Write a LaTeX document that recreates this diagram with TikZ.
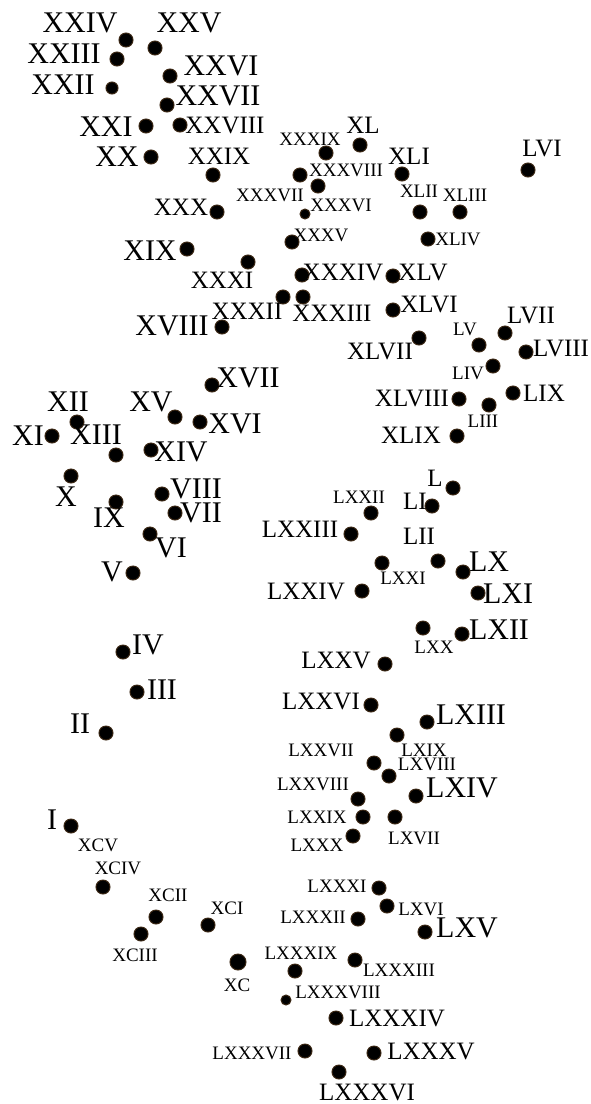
\documentclass[tikz,border=0pt]{standalone}
\usepackage{fontspec}
\setmainfont{Liberation Serif}
\begin{document}
\begin{tikzpicture}[x=1pt,y=-1pt,
  dot/.style={circle,fill=black,draw=black!70!brown,line width=1pt,inner sep=0pt,minimum size=14pt},
  sdot/.style={dot,minimum size=10pt},
  big/.style={inner sep=0pt,font=\fontsize{30}{30}\selectfont},
  med/.style={inner sep=0pt,font=\fontsize{25}{25}\selectfont},
  sml/.style={inner sep=0pt,font=\fontsize{19}{19}\selectfont}]
\useasboundingbox[fill=white] (0,0) rectangle (591,1104);
% dots
\node[dot] (d1) at (71,826) {};
\node[dot] (d2) at (106,733) {};
\node[dot] (d3) at (137,692) {};
\node[dot] (d4) at (123,652) {};
\node[dot] (d5) at (133,573) {};
\node[dot] (d6) at (150,534) {};
\node[dot] (d7) at (175,513) {};
\node[dot] (d8) at (162,494) {};
\node[dot] (d9) at (116,502) {};
\node[dot] (d10) at (71,476) {};
\node[dot] (d11) at (52,436) {};
\node[dot] (d12) at (77,422) {};
\node[dot] (d13) at (116,455) {};
\node[dot] (d14) at (151,450) {};
\node[dot] (d15) at (175,417) {};
\node[dot] (d16) at (200,422) {};
\node[dot] (d17) at (212,385) {};
\node[dot] (d18) at (222,327) {};
\node[dot] (d19) at (187,249) {};
\node[dot] (d20) at (151,157) {};
\node[dot] (d21) at (146,126) {};
\node[dot,minimum size=12pt] (d22) at (112,88) {};
\node[dot] (d23) at (117,59) {};
\node[dot] (d24) at (126,40) {};
\node[dot] (d25) at (155,48) {};
\node[dot] (d26) at (170,76) {};
\node[dot] (d27) at (167,105) {};
\node[dot] (d28) at (180,125) {};
\node[dot] (d29) at (213,175) {};
\node[dot] (d30) at (217,212) {};
\node[dot] (d31) at (248,262) {};
\node[dot] (d32) at (283,297) {};
\node[dot] (d33) at (303,297) {};
\node[dot] (d34) at (302,275) {};
\node[dot] (d35) at (292,242) {};
\node[sdot] (d36) at (305,214) {};
\node[dot] (d37) at (318,186) {};
\node[dot] (d38) at (300,175) {};
\node[dot] (d39) at (326,153) {};
\node[dot] (d40) at (360,145) {};
\node[dot] (d41) at (402,174) {};
\node[dot] (d42) at (420,212) {};
\node[dot] (d43) at (460,212) {};
\node[dot] (d44) at (428,239) {};
\node[dot] (d45) at (393,276) {};
\node[dot] (d46) at (393,310) {};
\node[dot] (d47) at (419,338) {};
\node[dot] (d48) at (459,399) {};
\node[dot] (d49) at (457,436) {};
\node[dot] (d50) at (453,488) {};
\node[dot] (d51) at (432,506) {};
\node[dot] (d52) at (438,561) {};
\node[dot] (d53) at (489,405) {};
\node[dot] (d54) at (493,366) {};
\node[dot] (d55) at (479,345) {};
\node[dot] (d56) at (528,170) {};
\node[dot] (d57) at (505,333) {};
\node[dot] (d58) at (526,352) {};
\node[dot] (d59) at (513,393) {};
\node[dot] (d60) at (463,572) {};
\node[dot] (d61) at (478,593) {};
\node[dot] (d62) at (462,634) {};
\node[dot] (d63) at (427,722) {};
\node[dot] (d64) at (416,796) {};
\node[dot] (d65) at (425,932) {};
\node[dot] (d66) at (387,906) {};
\node[dot] (d67) at (395,817) {};
\node[dot] (d68) at (389,776) {};
\node[dot] (d69) at (397,735) {};
\node[dot] (d70) at (423,628) {};
\node[dot] (d71) at (382,563) {};
\node[dot] (d72) at (371,513) {};
\node[dot] (d73) at (351,534) {};
\node[dot] (d74) at (362,591) {};
\node[dot] (d75) at (385,664) {};
\node[dot] (d76) at (371,705) {};
\node[dot] (d77) at (374,763) {};
\node[dot] (d78) at (358,799) {};
\node[dot] (d79) at (363,817) {};
\node[dot] (d80) at (353,836) {};
\node[dot] (d81) at (379,888) {};
\node[dot] (d82) at (358,919) {};
\node[dot] (d83) at (355,960) {};
\node[dot] (d84) at (336,1018) {};
\node[dot] (d85) at (374,1053) {};
\node[dot] (d86) at (339,1072) {};
\node[dot] (d87) at (305,1051) {};
\node[sdot] (d88) at (286,1000) {};
\node[dot] (d89) at (295,971) {};
\node[dot,minimum size=16pt] (d90) at (238,962) {};
\node[dot] (d91) at (208,925) {};
\node[dot] (d92) at (156,917) {};
\node[dot] (d93) at (141,934) {};
\node[dot] (d94) at (103,887) {};
% labels
\node[big] (t1) at (52,820) {I};
\node[big] (t2) at (80,724) {II};
\node[big] (t3) at (162,690) {III};
\node[big] (t4) at (148,645) {IV};
\node[big] (t5) at (112,572) {V};
\node[big] (t6) at (171,548) {VI};
\node[big] (t7) at (201,513) {VII};
\node[big] (t8) at (196,489) {VIII};
\node[big] (t9) at (109,518) {IX};
\node[big] (t10) at (66,497) {X};
\node[big] (t11) at (28,436) {XI};
\node[big] (t12) at (68,402) {XII};
\node[big] (t13) at (96,435) {XIII};
\node[big] (t14) at (181,452) {XIV};
\node[big] (t15) at (151,402) {XV};
\node[big] (t16) at (235,424) {XVI};
\node[big] (t17) at (248,378) {XVII};
\node[big] (t18) at (172,326) {XVIII};
\node[big] (t19) at (150,251) {XIX};
\node[big] (t20) at (117,157) {XX};
\node[big] (t21) at (106,127) {XXI};
\node[big] (t22) at (63,85) {XXII};
\node[big] (t23) at (64,54) {XXIII};
\node[big] (t24) at (80,23) {XXIV};
\node[big] (t25) at (189,23) {XXV};
\node[big] (t26) at (221,66) {XXVI};
\node[big] (t27) at (218,96) {XXVII};
\node[med] (t28) at (225,125) {XXVIII};
\node[med] (t29) at (219,156) {XXIX};
\node[med] (t30) at (181,207) {XXX};
\node[med] (t31) at (222,280) {XXXI};
\node[med] (t32) at (247,311) {XXXII};
\node[med] (t33) at (332,313) {XXXIII};
\node[med] (t34) at (343,272) {XXXIV};
\node[sml] (t35) at (321,235) {XXXV};
\node[sml] (t36) at (341,205) {XXXVI};
\node[sml] (t37) at (270,195) {XXXVII};
\node[sml] (t38) at (346,170) {XXXVIII};
\node[sml] (t39) at (310,139) {XXXIX};
\node[med] (t40) at (363,125) {XL};
\node[med] (t41) at (409,156) {XLI};
\node[sml] (t42) at (419,191) {XLII};
\node[sml] (t43) at (465,195) {XLIII};
\node[sml] (t44) at (458,239) {XLIV};
\node[med] (t45) at (423,272) {XLV};
\node[med] (t46) at (429,304) {XLVI};
\node[med] (t47) at (380,351) {XLVII};
\node[med] (t48) at (412,398) {XLVIII};
\node[med] (t49) at (411,435) {XLIX};
\node[med] (t50) at (435,478) {L};
\node[med] (t51) at (415,501) {LI};
\node[med] (t52) at (419,536) {LII};
\node[sml] (t53) at (483,421) {LIII};
\node[sml] (t54) at (468,373) {LIV};
\node[sml] (t55) at (465,329) {LV};
\node[med] (t56) at (542,148) {LVI};
\node[med] (t57) at (531,315) {LVII};
\node[med] (t58) at (561,348) {LVIII};
\node[med] (t59) at (544,393) {LIX};
\node[big] (t60) at (489,562) {LX};
\node[big] (t61) at (508,594) {LXI};
\node[big] (t62) at (499,630) {LXII};
\node[big] (t63) at (471,715) {LXIII};
\node[big] (t64) at (462,788) {LXIV};
\node[big] (t65) at (467,928) {LXV};
\node[sml] (t66) at (421,909) {LXVI};
\node[sml] (t67) at (414,838) {LXVII};
\node[sml] (t68) at (427,764) {LXVIII};
\node[sml] (t69) at (424,750) {LXIX};
\node[sml] (t70) at (434,647) {LXX};
\node[sml] (t71) at (403,578) {LXXI};
\node[sml] (t72) at (359,497) {LXXII};
\node[med] (t73) at (300,529) {LXXIII};
\node[med] (t74) at (306,591) {LXXIV};
\node[med] (t75) at (336,660) {LXXV};
\node[med] (t76) at (321,701) {LXXVI};
\node[sml] (t77) at (321,750) {LXXVII};
\node[sml] (t78) at (313,784) {LXXVIII};
\node[sml] (t79) at (317,817) {LXXIX};
\node[sml] (t80) at (317,845) {LXXX};
\node[sml] (t81) at (337,886) {LXXXI};
\node[sml] (t82) at (313,917) {LXXXII};
\node[sml] (t83) at (399,970) {LXXXIII};
\node[med] (t84) at (397,1018) {LXXXIV};
\node[med] (t85) at (431,1051) {LXXXV};
\node[med] (t86) at (367,1092) {LXXXVI};
\node[sml] (t87) at (252,1053) {LXXXVII};
\node[sml] (t88) at (338,992) {LXXXVIII};
\node[sml] (t89) at (301,953) {LXXXIX};
\node[sml] (t90) at (237,985) {XC};
\node[sml] (t91) at (227,908) {XCI};
\node[sml] (t92) at (168,895) {XCII};
\node[sml] (t93) at (135,955) {XCIII};
\node[sml] (t94) at (118,868) {XCIV};
\node[sml] (t95) at (98,845) {XCV};
\end{tikzpicture}
\end{document}
